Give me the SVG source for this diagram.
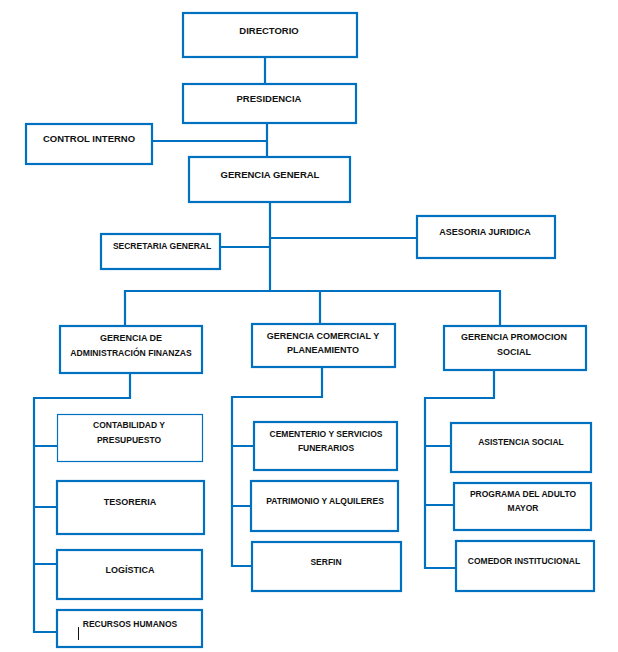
<svg xmlns="http://www.w3.org/2000/svg" width="618" height="652" viewBox="0 0 618 652">
<style>
.b{fill:#fff;stroke:#0070C0;stroke-width:2.2}
.c{stroke:#0070C0;stroke-width:2.2;fill:none}
text{font-family:"Liberation Sans",Arial,sans-serif;font-weight:bold;font-size:9px;fill:#111;text-anchor:middle}
</style>
<rect width="618" height="652" fill="#fff"/>
<g id="connectors">
<path class="c" d="M265 57V88"/>
<path class="c" d="M267 123V157M150 141H267"/>
<path class="c" d="M270 202V291M220 247H270M270 238H417"/>
<path class="c" d="M125 326V291H500V326M320 291V324"/>
<path class="c" d="M130 373V398H34V632H57M34 446H57M34 507H57M34 564H57"/>
<path class="c" d="M322 367V397H232V566H252M232 446H254M232 506H251"/>
<path class="c" d="M494 370V398H425V568H456M425 446H451M425 505H454"/>
</g>
<g id="directorio"><rect class="b" x="183" y="13" width="174" height="44"/><text x="269" y="34" style="font-size:9.5px">DIRECTORIO</text></g>
<g id="presidencia"><rect class="b" x="183" y="84" width="173" height="39"/><text x="269" y="102" style="font-size:9.5px">PRESIDENCIA</text></g>
<g id="control-interno"><rect class="b" x="26" y="124" width="126" height="40"/><text x="89" y="142" style="font-size:9.5px">CONTROL INTERNO</text></g>
<g id="gerencia-general"><rect class="b" x="189" y="157" width="161" height="45"/><text x="270" y="178" style="font-size:9.5px">GERENCIA GENERAL</text></g>
<g id="secretaria-general"><rect class="b" x="101" y="234" width="119" height="35"/><text x="162" y="249" style="font-size:8.5px">SECRETARIA GENERAL</text></g>
<g id="asesoria-juridica"><rect class="b" x="417" y="216" width="138" height="42"/><text x="485" y="235">ASESORIA JURIDICA</text></g>
<g id="gerencia-admin"><rect class="b" x="60" y="326" width="142" height="47"/><text x="131" y="341">GERENCIA DE</text><text x="131" y="356" style="font-size:8.6px">ADMINISTRACIÓN FINANZAS</text></g>
<g id="gerencia-comercial"><rect class="b" x="252" y="324" width="143" height="43"/><text x="323" y="339">GERENCIA COMERCIAL Y</text><text x="323" y="353">PLANEAMIENTO</text></g>
<g id="gerencia-promocion"><rect class="b" x="444" y="326" width="142" height="44"/><text x="514" y="340">GERENCIA PROMOCION</text><text x="514" y="355">SOCIAL</text></g>
<g id="contabilidad"><rect x="57.5" y="414.5" width="145" height="47" fill="#fff" stroke="#0070C0" stroke-width="1.2"/><text x="129" y="428" style="font-size:8.5px">CONTABILIDAD Y</text><text x="129" y="443" style="font-size:8.5px">PRESUPUESTO</text></g>
<g id="tesoreria"><rect class="b" x="57" y="481" width="147" height="53"/><text x="130" y="505">TESORERIA</text></g>
<g id="logistica"><rect class="b" x="57" y="550" width="145" height="49"/><text x="130" y="573">LOGÍSTICA</text></g>
<g id="recursos-humanos"><rect class="b" x="57" y="610" width="145" height="37"/><text x="130" y="627" style="font-size:8.5px">RECURSOS HUMANOS</text><path d="M78.5 627V640" stroke="#111" stroke-width="1"/></g>
<g id="cementerio"><rect class="b" x="254" y="422" width="143" height="48"/><text x="326" y="437" style="font-size:8.5px">CEMENTERIO Y SERVICIOS</text><text x="326" y="451" style="font-size:8.5px">FUNERARIOS</text></g>
<g id="patrimonio"><rect class="b" x="251" y="481" width="147" height="50"/><text x="325" y="504" style="font-size:8.5px">PATRIMONIO Y ALQUILERES</text></g>
<g id="serfin"><rect class="b" x="252" y="542" width="149" height="49"/><text x="326" y="565" style="font-size:8.5px">SERFIN</text></g>
<g id="asistencia-social"><rect class="b" x="451" y="423" width="140" height="49"/><text x="521" y="445" style="font-size:8.5px">ASISTENCIA SOCIAL</text></g>
<g id="programa-adulto-mayor"><rect class="b" x="454" y="483" width="137" height="47"/><text x="523" y="497" style="font-size:8.5px">PROGRAMA DEL ADULTO</text><text x="523" y="511" style="font-size:8.5px">MAYOR</text></g>
<g id="comedor"><rect class="b" x="456" y="541" width="138" height="50"/><text x="524" y="564" style="font-size:8.5px">COMEDOR INSTITUCIONAL</text></g>
</svg>
